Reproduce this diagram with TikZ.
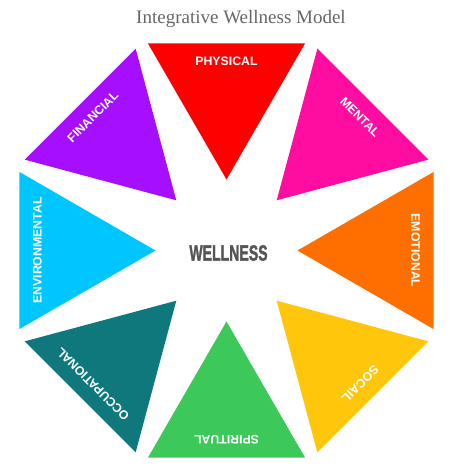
\documentclass[tikz,border=0pt]{standalone}
\usepackage{fontspec}
\usepackage{tikz}
\setmainfont{Liberation Serif}
\newfontfamily\petalfont{Liberation Sans}
\newfontfamily\hubfont[BoldFeatures={FakeBold=2}]{Liberation Sans}
\usetikzlibrary{arrows}

\definecolor{physical}{HTML}{FF0000}
\definecolor{mental}{HTML}{FF0DA0}
\definecolor{emotional}{HTML}{FF6F00}
\definecolor{social}{HTML}{FFC60B}
\definecolor{spiritual}{HTML}{3CC95A}
\definecolor{occupational}{HTML}{0E787C}
\definecolor{environmental}{HTML}{00C6FF}
\definecolor{financial}{HTML}{A50EFF}
\definecolor{hubgray}{HTML}{555555}
\definecolor{titlegray}{HTML}{666666}

\begin{document}
\begin{tikzpicture}[line cap=round,line join=round,x=1pt,y=1pt,
  petal label/.style={text=white,inner sep=0pt,font=\petalfont\fontsize{12.3}{12}\selectfont\bfseries},
  hub label/.style={text=hubgray,inner sep=0pt,xscale=0.64,font=\hubfont\fontsize{22}{22}\selectfont\bfseries}]
\useasboundingbox (0,0) rectangle (450,472);
\node[text=titlegray,inner sep=0pt,font=\fontsize{19}{19}\selectfont] (title) at (241,453) {Integrative Wellness Model};
\begin{scope}[shift={(226.5,221.5)}]
\foreach \ang/\col/\lbl in {90/physical/PHYSICAL,45/mental/MENTAL,0/emotional/EMOTIONAL,-45/social/SOCAIL,
  -90/spiritual/SPIRITUAL,-135/occupational/OCCUPATIONAL,180/environmental/ENVIRONMENTAL,135/financial/FINANCIAL}{
  \fill[\col] (\ang:71) -- (\ang+20.77:221.4) -- (\ang-20.77:221.4) -- cycle;
  \node[petal label,rotate=\ang-90] (\col) at (\ang:189) {\lbl};
}
\node[hub label] (hub) at (2,-2.5) {WELLNESS};
\end{scope}
\end{tikzpicture}
\end{document}
